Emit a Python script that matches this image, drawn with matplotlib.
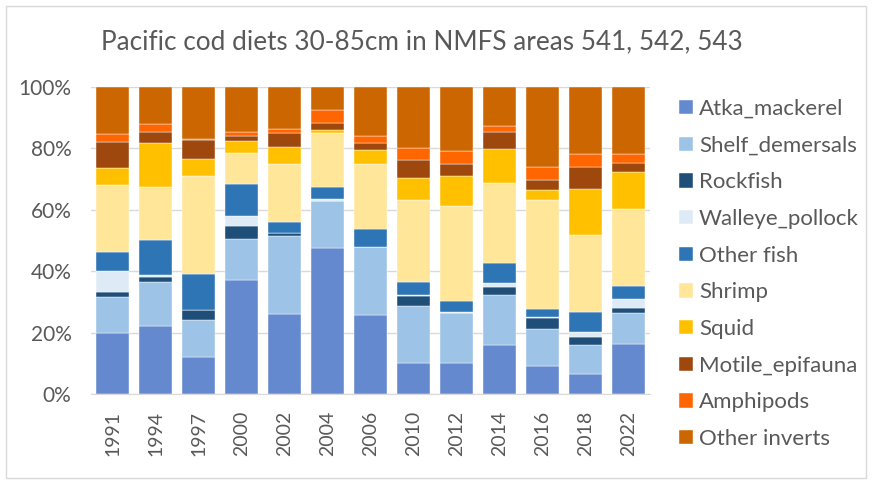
import numpy as np
import matplotlib
matplotlib.use("Agg")
import matplotlib.pyplot as plt
from matplotlib.patches import Rectangle

plt.rcParams['font.family'] = ['Lato', 'DejaVu Sans']

years = ["1991", "1994", "1997", "2000", "2002", "2004", "2006",
         "2010", "2012", "2014", "2016", "2018", "2022"]

atka_mackerel = [19.8, 22.3, 12.1, 37.2, 26.0, 47.6, 25.6, 10.2, 10.2, 16.0, 9.2, 6.5, 16.4]
shelf_demersals = [11.9, 14.3, 12.1, 13.2, 25.4, 15.3, 22.4, 18.6, 16.1, 16.4, 11.9, 9.6, 9.9]
rockfish = [1.5, 1.6, 3.0, 4.3, 0.9, 0.0, 0.0, 3.2, 0.0, 2.6, 3.5, 2.5, 1.6]
walleye_pollock = [7.0, 0.5, 0.2, 3.3, 0.2, 0.6, 0.0, 0.2, 0.3, 1.0, 0.6, 1.7, 3.0]
other_fish = [6.0, 11.4, 11.6, 10.5, 3.6, 3.8, 5.7, 4.3, 3.7, 6.8, 2.5, 6.4, 4.4]
shrimp = [21.8, 17.4, 32.0, 10.0, 18.8, 17.7, 21.2, 26.7, 30.8, 26.0, 35.5, 25.1, 24.8]
squid = [5.7, 14.1, 5.6, 3.9, 5.5, 1.1, 4.5, 7.1, 10.0, 10.9, 3.4, 15.0, 12.3]
motile_epifauna = [8.4, 3.6, 6.1, 1.7, 4.6, 2.3, 2.4, 5.9, 3.8, 5.5, 3.2, 7.0, 2.7]
amphipods = [2.5, 2.8, 0.2, 1.1, 1.3, 4.1, 2.2, 3.8, 4.1, 2.0, 4.0, 4.3, 3.2]
other_inverts = [15.4, 12.0, 17.1, 14.8, 13.7, 7.5, 16.0, 20.0, 21.0, 12.8, 26.2, 21.9, 21.7]

names = ["Atka_mackerel", "Shelf_demersals", "Rockfish", "Walleye_pollock", "Other fish",
         "Shrimp", "Squid", "Motile_epifauna", "Amphipods", "Other inverts"]
series = [atka_mackerel, shelf_demersals, rockfish, walleye_pollock, other_fish,
          shrimp, squid, motile_epifauna, amphipods, other_inverts]
colors = ["#6589CE", "#9DC3E6", "#1F4E79", "#DEEBF7", "#2E75B6",
          "#FFE699", "#FFC000", "#9E480E", "#FF6600", "#CC6600"]

fig = plt.figure(figsize=(8.73, 4.84), dpi=100)
ax = fig.add_axes([91/873, 1-394/484, (650-91)/873, (394-87)/484])

x = np.arange(len(years))
bottom = np.zeros(len(years))
for name, vals, c in zip(names, series, colors):
    vals = np.array(vals) / 100
    ax.bar(x, vals, 0.79, bottom=bottom, color=c, label=name,
           edgecolor="white", linewidth=0.3, zorder=3)
    bottom += vals

ax.set_xlim(-0.5, len(years) - 0.5)
ax.set_ylim(0, 1)
ax.set_yticks(np.arange(0, 1.01, 0.2))
ax.set_yticklabels([f"{int(round(v*100))}%" for v in np.arange(0, 1.01, 0.2)])
ax.set_xticks(x)
ax.set_xticklabels(years, rotation=90)
ax.tick_params(axis="both", length=0, colors="#595959")
ax.tick_params(axis="y", pad=14, labelsize=15)
ax.tick_params(axis="x", pad=12, labelsize=14)
ax.grid(axis="y", color="#D9D9D9", linewidth=1, zorder=0)
for s in ["top", "right", "left"]:
    ax.spines[s].set_visible(False)
ax.spines["bottom"].set_color("#D9D9D9")
ax.spines["bottom"].set_zorder(4)

fig.text(422/873, 1-42/484, "Pacific cod diets 30-85cm in NMFS areas 541, 542, 543",
         ha="center", va="center", fontsize=18.8, color="#595959")

fig.legend(loc="upper left", bbox_to_anchor=(679/873, 1-99/484), frameon=False,
           fontsize=16, labelcolor="#595959", borderpad=0, borderaxespad=0,
           handlelength=0.63, handleheight=0.63, handletextpad=0.27, labelspacing=0.75)

fig.patches.append(Rectangle((6/873, 6/484), 860/873, 472/484, transform=fig.transFigure,
                             fill=False, edgecolor="#D9D9D9", linewidth=1))

fig.savefig("out.png", dpi=100)
